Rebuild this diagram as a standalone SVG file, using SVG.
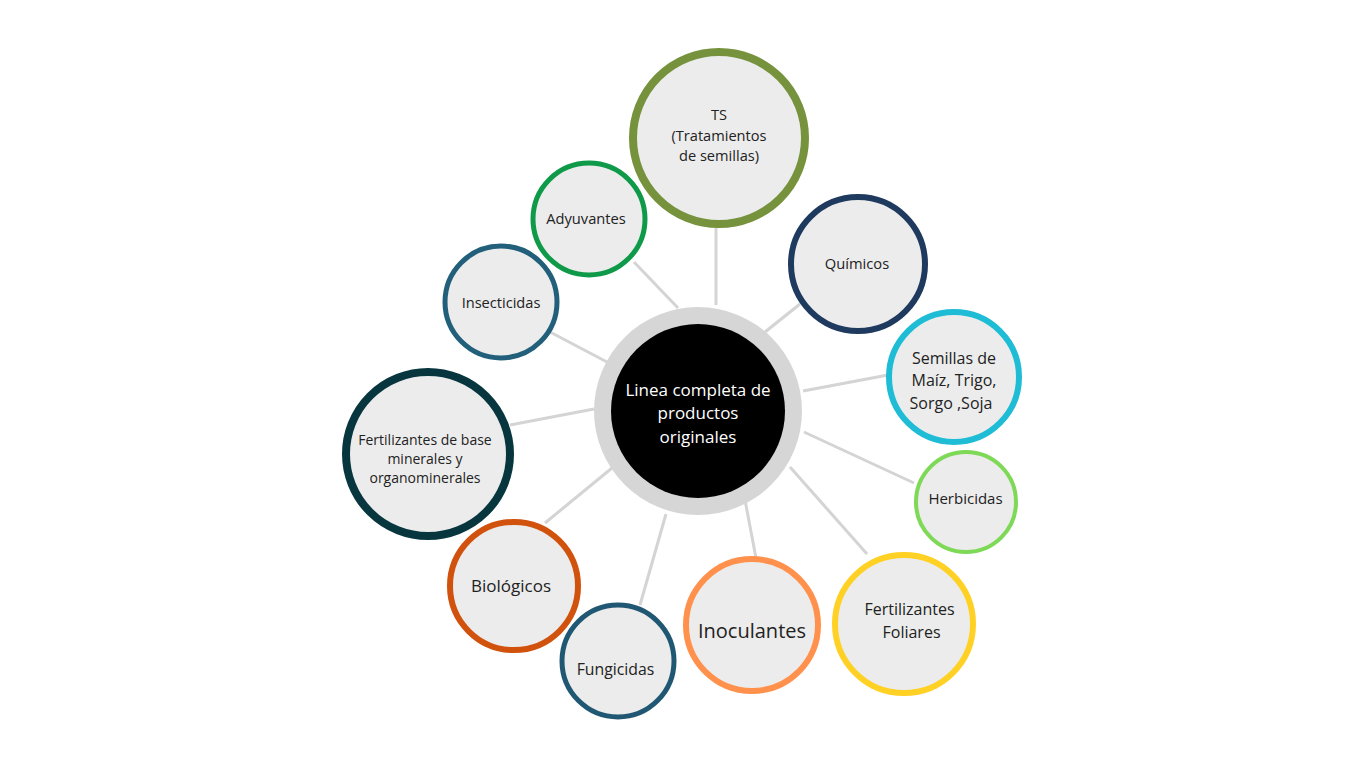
<svg xmlns="http://www.w3.org/2000/svg" width="1366" height="768" viewBox="0 0 1366 768">
<style>
.bg{fill:#ffffff}
.c{fill:#ececec}
.t{font-family:"Open Sans","Liberation Sans",sans-serif;fill:#222;text-anchor:middle;font-size:14.6px}
.w{fill:#ffffff;font-size:17px}
.ln{stroke:#d4d4d4;stroke-width:3;fill:none}
</style>
<rect class="bg" x="0" y="0" width="1366" height="768"/>
<g id="connectors">
<line class="ln" x1="716" y1="228" x2="716" y2="305"/>
<line class="ln" x1="634" y1="262" x2="678" y2="308"/>
<line class="ln" x1="550" y1="332" x2="607" y2="362"/>
<line class="ln" x1="510" y1="425" x2="594" y2="409"/>
<line class="ln" x1="545" y1="523" x2="612" y2="468"/>
<line class="ln" x1="640" y1="605" x2="666" y2="514"/>
<line class="ln" x1="745" y1="500" x2="756" y2="558"/>
<line class="ln" x1="790" y1="467" x2="867" y2="554"/>
<line class="ln" x1="804" y1="432" x2="914" y2="483"/>
<line class="ln" x1="803" y1="391" x2="888" y2="375"/>
<line class="ln" x1="765" y1="332" x2="800" y2="304"/>
</g>
<g id="center">
<circle cx="698" cy="411" r="104" fill="#d6d6d6"/>
<circle cx="698" cy="411" r="87" fill="#000000"/>
<text class="t w" x="698" y="396">Linea completa de</text>
<text class="t w" x="698" y="419">productos</text>
<text class="t w" x="698" y="443">originales</text>
</g>
<g id="ts">
<circle class="c" cx="719" cy="138" r="86" stroke="#76923c" stroke-width="8"/>
<text class="t" x="719" y="120">TS</text>
<text class="t" x="719" y="141">(Tratamientos</text>
<text class="t" x="719" y="161">de semillas)</text>
</g>
<g id="adyuvantes">
<circle class="c" cx="589" cy="219" r="56" stroke="#0e9a48" stroke-width="5"/>
<text class="t" x="586" y="224" style="font-size:14.7px">Adyuvantes</text>
</g>
<g id="insecticidas">
<circle class="c" cx="501" cy="302" r="56" stroke="#215f7a" stroke-width="5"/>
<text class="t" x="501" y="308">Insecticidas</text>
</g>
<g id="fert-base">
<circle class="c" cx="428" cy="454" r="82" stroke="#07363f" stroke-width="8"/>
<text class="t" x="425" y="445" style="font-size:14px">Fertilizantes de base</text>
<text class="t" x="425" y="464" style="font-size:14px">minerales y</text>
<text class="t" x="425" y="483" style="font-size:14px">organominerales</text>
</g>
<g id="biologicos">
<circle class="c" cx="514" cy="586" r="64" stroke="#d1520c" stroke-width="6"/>
<text class="t" x="511" y="592" style="font-size:17px">Biológicos</text>
</g>
<g id="fungicidas">
<circle class="c" cx="618" cy="661" r="56" stroke="#205873" stroke-width="5"/>
<text class="t" x="615.5" y="675" style="font-size:15.8px">Fungicidas</text>
</g>
<g id="inoculantes">
<circle class="c" cx="752" cy="625" r="66" stroke="#ff914d" stroke-width="6"/>
<text class="t" x="752" y="638" style="font-size:20px">Inoculantes</text>
</g>
<g id="fert-foliares">
<circle class="c" cx="904" cy="624" r="69" stroke="#ffd124" stroke-width="6"/>
<text class="t" x="909.5" y="615" style="font-size:16px">Fertilizantes</text>
<text class="t" x="911.5" y="638" style="font-size:16px">Foliares</text>
</g>
<g id="herbicidas">
<circle class="c" cx="966" cy="502" r="50" stroke="#7ed957" stroke-width="4"/>
<text class="t" x="965.5" y="504" style="font-size:15px">Herbicidas</text>
</g>
<g id="semillas">
<circle class="c" cx="954" cy="377" r="65" stroke="#1fbcd6" stroke-width="6"/>
<text class="t" x="954" y="364" style="font-size:16px">Semillas de</text>
<text class="t" x="954" y="386" style="font-size:16px">Maíz, Trigo,</text>
<text class="t" x="951" y="409" style="font-size:16px">Sorgo ,Soja</text>
</g>
<g id="quimicos">
<circle class="c" cx="858" cy="264" r="67" stroke="#1f3a5f" stroke-width="6"/>
<text class="t" x="857" y="269" style="font-size:14.7px">Químicos</text>
</g>
</svg>
